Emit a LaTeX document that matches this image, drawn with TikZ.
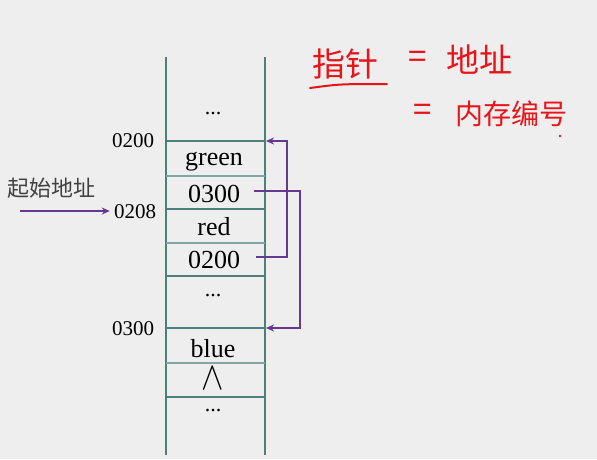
\documentclass[tikz,border=0pt]{standalone}
\usepackage{fontspec}
\usepackage{graphicx}
\setmainfont{Liberation Serif}
\newfontfamily\cjk{Noto Sans CJK SC}
\usetikzlibrary{arrows.meta}
\definecolor{bgc}{HTML}{EEEEEE}
\definecolor{wallc}{HTML}{4E807B}
\definecolor{thinc}{HTML}{7FA6A2}
\definecolor{ptrc}{HTML}{653A8C}
\definecolor{inkc}{HTML}{E8141A}
\definecolor{grayc}{HTML}{404040}
\begin{document}
\begin{tikzpicture}[x=1pt,y=-1pt,
  wall/.style={draw=wallc,line width=2.6pt},
  thinline/.style={draw=thinc,line width=1.6pt},
  cell/.style={font=\fontsize{26}{26}\selectfont,inner sep=0pt,anchor=base},
  dots/.style={font=\fontsize{22}{22}\selectfont,inner sep=0pt,anchor=base,text height=4pt,text depth=0pt},
  addr/.style={font=\fontsize{21}{21}\selectfont,inner sep=0pt,anchor=base},
  ptr/.style={draw=ptrc,line width=2pt,-{Stealth[length=8pt,width=7pt]}},
  ink/.style={text=inkc,font=\cjk\fontsize{33}{33}\selectfont,inner sep=0pt}]
\useasboundingbox (0,0) rectangle (597,459);
\fill[bgc] (0,0) rectangle (597,459);
% walls
\draw[wall] (166,57) -- (166,455);
\draw[wall] (265,57) -- (265,455);
% separators
\draw[wall] (166,141) -- (265,141);
\draw[thinline] (166,176) -- (265,176);
\draw[wall] (166,209) -- (265,209);
\draw[thinline] (166,243) -- (265,243);
\draw[wall] (166,276) -- (265,276);
\draw[wall] (166,328) -- (265,328);
\draw[thinline] (166,363) -- (265,363);
\draw[wall] (166,397) -- (265,397);
% cell contents
\node[dots] (d1) at (213,114) {...};
\node[cell] (g) at (214,165) {green};
\node[cell] (p1) at (214,202) {0300};
\node[cell] (r) at (214,235) {red};
\node[cell] (p2) at (214,268) {0200};
\node[dots] (d2) at (213,296) {...};
\node[cell] (b) at (213,357) {blue};
\node[cell,text height=18pt,text depth=0pt] (nil) at (213,389) {\scalebox{1.35}[1.6]{$\wedge$}};
\node[dots] (d3) at (213,411) {...};
% addresses
\node[addr] (a200) at (133,147) {0200};
\node[addr] (a208) at (135,218) {0208};
\node[addr] (a300) at (133,335) {0300};
\node[text=grayc,font=\cjk\fontsize{22}{22}\selectfont,inner sep=0pt] (start) at (51,188) {起始地址};
\coordinate (s0) at (20,211);
\draw[ptr] (s0) -- ([xshift=-4pt,yshift=7pt]a208.base west);
% pointers
\coordinate (t200) at (266,141);
\coordinate (t300) at (266,328);
\draw[ptr] ([xshift=14pt,yshift=11pt]p1.base east) -| ([xshift=34pt]t300) -- (t300);
\draw[ptr] ([xshift=16pt,yshift=11pt]p2.base east) -| ([xshift=21pt]t200) -- (t200);
% handwritten note
\node[ink,anchor=west] (n1) at (312,64) {指针};
\draw[inkc,line width=2pt,line cap=round] (310,88) .. controls (340,84) .. (387,84);
\node[ink,anchor=west] (eq1) at (408,60) {=};
\node[ink,anchor=west] (n2) at (446,60) {地址};
\node[ink,anchor=west] (eq2) at (413,113) {=};
\node[ink,anchor=west,font=\cjk\fontsize{28}{28}\selectfont] (n3) at (455,114) {内存编号};
\fill[inkc] (560,136) circle (1.3pt);
\end{tikzpicture}
\end{document}
